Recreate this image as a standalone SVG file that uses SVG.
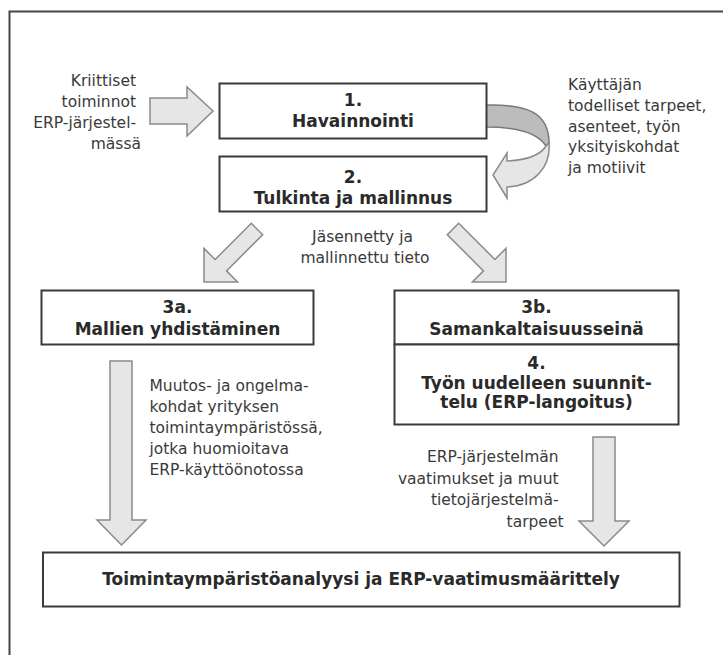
<svg xmlns="http://www.w3.org/2000/svg" width="723" height="655" viewBox="0 0 723 655">
<style>
.box{fill:#fff;stroke:#3a3a3a;stroke-width:2}
.arr{fill:#e6e6e6;stroke:#8a8a8a;stroke-width:1.5;stroke-linejoin:miter}
.dark{fill:#bcbcbc;stroke:#7a7a7a;stroke-width:1.5}
.t{font-family:"DejaVu Sans",sans-serif;font-weight:bold;font-size:17px;fill:#2a2a2a;text-anchor:middle}
.r{font-family:"DejaVu Sans",sans-serif;font-size:15.5px;fill:#3a3a3a}
</style>
<rect width="723" height="655" fill="#fff"/>
<path d="M9.5,655 V11.5 H723" fill="none" stroke="#444" stroke-width="2"/>

<g id="connectors">
  <polygon class="arr" points="150,98 187,98 187,87 213,111 187,136 187,124 150,124"/>
  <path class="dark" d="M486,105 C528,104 549,113 549,143 L546,146 C538,133 518,127 486,127 Z"/>
  <path class="arr" d="M549,143 C551,166 535,186 507,187 L507,198 L493,175 L507,153 L507,161 C528,160 541,154 546,146 Z"/>
  <polygon class="arr" points="251.3,223.3 262.7,234.7 226.5,270.9 237.6,282 204,282 204,248.4 215.1,259.5"/>
  <polygon class="arr" points="458.7,223.3 447.3,234.7 483.5,270.9 472.4,282 506,282 506,248.4 494.9,259.5"/>
  <polygon class="arr" points="110,361 132,361 132,520 146,520 121.5,545 97,520 110,520"/>
  <polygon class="arr" points="593,437 615,437 615,521 629,521 604,546 579,521 593,521"/>
</g>

<g id="n1">
  <rect class="box" x="219.5" y="83.5" width="267" height="55"/>
  <text class="t" x="353" y="106">1.</text>
  <text class="t" x="353" y="127">Havainnointi</text>
</g>
<g id="n2">
  <rect class="box" x="219.5" y="156.5" width="267" height="55"/>
  <text class="t" x="353" y="182.5">2.</text>
  <text class="t" x="353" y="203.5">Tulkinta ja mallinnus</text>
</g>
<g id="n3a">
  <rect class="box" x="41.5" y="290.5" width="272" height="54"/>
  <text class="t" x="177.5" y="313">3a.</text>
  <text class="t" x="177.5" y="335">Mallien yhdistäminen</text>
</g>
<g id="n3b">
  <rect class="box" x="394.5" y="290.5" width="284" height="54"/>
  <text class="t" x="536.5" y="313">3b.</text>
  <text class="t" x="536.5" y="335">Samankaltaisuusseinä</text>
</g>
<g id="n4">
  <rect class="box" x="394.5" y="344.5" width="284" height="80"/>
  <text class="t" x="536.5" y="369">4.</text>
  <text class="t" x="536.5" y="388.5">Työn uudelleen suunnit-</text>
  <text class="t" x="536.5" y="408">telu (ERP-langoitus)</text>
</g>
<g id="n5">
  <rect class="box" x="43" y="552.5" width="636.5" height="54"/>
  <text class="t" x="361" y="585">Toimintaympäristöanalyysi ja ERP-vaatimusmäärittely</text>
</g>

<g id="labels">
  <text class="r" text-anchor="end">
    <tspan x="141" y="86">Kriittiset</tspan>
    <tspan x="141" y="107">toiminnot</tspan>
    <tspan x="141" y="128">ERP-järjestel-</tspan>
    <tspan x="141" y="149">mässä</tspan>
  </text>
  <text class="r">
    <tspan x="568" y="90">Käyttäjän</tspan>
    <tspan x="568" y="111">todelliset tarpeet,</tspan>
    <tspan x="568" y="131.5">asenteet, työn</tspan>
    <tspan x="568" y="152">yksityiskohdat</tspan>
    <tspan x="568" y="173">ja motiivit</tspan>
  </text>
  <text class="r" text-anchor="middle">
    <tspan x="365" y="242">Jäsennetty ja</tspan>
    <tspan x="365" y="263">mallinnettu tieto</tspan>
  </text>
  <text class="r">
    <tspan x="149.5" y="391">Muutos- ja ongelma-</tspan>
    <tspan x="149.5" y="412">kohdat yrityksen</tspan>
    <tspan x="149.5" y="433">toimintaympäristössä,</tspan>
    <tspan x="149.5" y="453.5">jotka huomioitava</tspan>
    <tspan x="149.5" y="474.5">ERP-käyttöönotossa</tspan>
  </text>
  <text class="r" text-anchor="end">
    <tspan x="563.5" y="462">ERP-järjestelmän</tspan>
    <tspan x="563.5" y="483.5">vaatimukset ja muut</tspan>
    <tspan x="563.5" y="505">tietojärjestelmä-</tspan>
    <tspan x="563.5" y="526.5">tarpeet</tspan>
  </text>
</g>
</svg>
